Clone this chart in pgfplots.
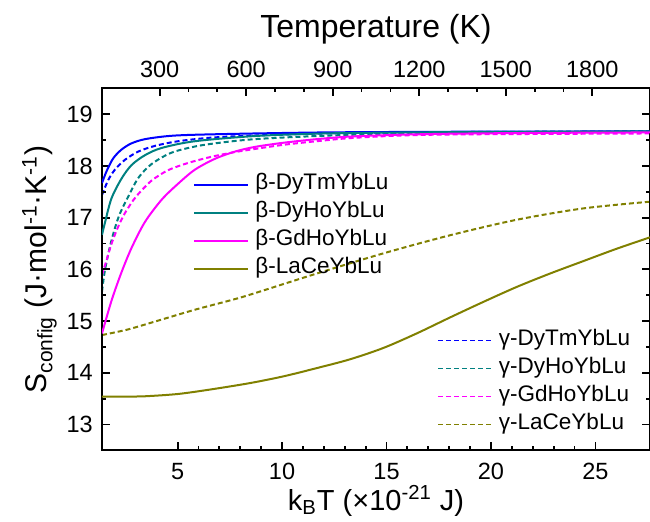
\documentclass[border=0pt]{standalone}
\usepackage{fontspec}
\setmainfont{Liberation Sans}
\usepackage{pgfplots}
\pgfplotsset{compat=1.18}
\definecolor{cblue}{RGB}{0,0,255}
\definecolor{cteal}{RGB}{0,128,128}
\definecolor{cmag}{RGB}{255,0,255}
\definecolor{colive}{RGB}{128,128,0}

\pgfplotstableread{
x y
1.3806 17.67
1.60 17.90
1.92 18.15
2.32 18.32
2.80 18.44
3.44 18.52
4.55 18.58
5.83 18.605
8.70 18.63
12.0 18.65
16.0 18.66
20.0 18.665
27.613 18.67
}\bDT
\pgfplotstableread{
x y
1.3806 16.67
1.55 16.95
1.84 17.38
2.32 17.76
2.80 18.02
3.44 18.21
4.24 18.35
5.83 18.48
8.70 18.58
12.0 18.63
16.0 18.65
20.0 18.66
27.613 18.67
}\bDH
\pgfplotstableread{
x y
1.3806 14.76
1.84 15.40
2.32 15.95
2.80 16.42
3.44 16.92
4.24 17.35
5.03 17.66
5.83 17.93
6.79 18.14
7.75 18.28
8.70 18.37
10.06 18.45
11.66 18.52
13.25 18.57
15.65 18.605
18.04 18.625
22.0 18.64
27.613 18.65
}\bGH
\pgfplotstableread{
x y
1.3806 13.54
2.50 13.54
3.44 13.545
5.03 13.59
6.63 13.68
8.46 13.80
10.06 13.93
11.66 14.09
13.25 14.26
14.85 14.48
16.44 14.76
18.04 15.07
19.63 15.37
21.23 15.66
22.83 15.92
24.42 16.16
26.02 16.40
27.613 16.62
}\bLC
\pgfplotstableread{
x y
1.3806 17.44
1.68 17.73
2.00 17.93
2.48 18.12
3.12 18.28
3.92 18.39
5.03 18.48
6.63 18.55
8.70 18.59
12.0 18.63
16.0 18.65
20.0 18.66
27.613 18.67
}\gDT
\pgfplotstableread{
x y
1.3806 15.57
1.52 15.98
1.76 16.44
2.00 16.80
2.24 17.08
2.60 17.38
3.12 17.77
3.76 18.04
4.72 18.26
5.99 18.39
7.42 18.47
8.70 18.52
10.5 18.56
13.0 18.60
16.0 18.63
20.0 18.65
27.613 18.66
}\gDH
\pgfplotstableread{
x y
1.3806 15.89
1.60 16.18
1.84 16.50
2.16 16.83
2.48 17.09
2.88 17.34
3.12 17.46
3.76 17.72
4.55 17.92
5.51 18.06
6.63 18.18
7.75 18.27
8.70 18.33
10.06 18.41
11.66 18.48
13.25 18.54
15.65 18.59
18.04 18.61
22.0 18.62
27.613 18.63
}\gGH
\pgfplotstableread{
x y
1.3806 14.73
2.64 14.84
4.24 15.03
5.83 15.22
7.42 15.39
8.46 15.51
11.66 15.92
14.85 16.31
18.04 16.66
21.23 16.96
24.42 17.18
27.613 17.31
}\gLC

\pgfplotsset{
  common/.style={
    scale only axis, width=274pt, height=180.9pt,
    at={(0,0)}, anchor=south west,
    xmin=1.3806, xmax=27.613, ymin=12.5, ymax=19.5,
    axis line style={line width=1pt},
    major tick length=4pt, minor tick length=2pt,
    every tick/.style={black, line width=0.9pt},
    tick align=inside,
    /pgf/number format/assume math mode=true,
    /pgf/number format/1000 sep={},
    tick label style={font=\fontsize{11.75}{13}\selectfont},
    legend cell align=left,
    legend style={draw=none, fill=none, inner sep=0pt, column sep=3pt,
      font=\fontsize{11.25}{13}\selectfont, row sep=3pt,
      nodes={inner sep=0pt, text height=8.2pt, text depth=2.8pt}},
  }
}

\begin{document}
\begin{tikzpicture}
% gamma curves (dashed), hidden axis
\begin{axis}[common, hide axis,
  legend image code/.code={\draw[#1, line width=0.6pt] (0pt,0pt) -- (27pt,0pt);},
  legend style={at={(axis description cs:0.612,0.3355)}, anchor=north west}]
\addplot[cblue, line width=1pt, dash pattern=on 2.5pt off 1.5pt, smooth] table {\gDT};
\addlegendentry{γ-DyTmYbLu}
\addplot[cteal, line width=1pt, dash pattern=on 2.5pt off 1.5pt, smooth] table {\gDH};
\addlegendentry{γ-DyHoYbLu}
\addplot[cmag, line width=1pt, dash pattern=on 2.5pt off 1.5pt, smooth] table {\gGH};
\addlegendentry{γ-GdHoYbLu}
\addplot[colive, line width=1pt, dash pattern=on 2.5pt off 1.5pt, smooth] table {\gLC};
\addlegendentry{γ-LaCeYbLu}
\end{axis}
% main axis with beta curves
\begin{axis}[common,
  xtick={5,10,15,20,25}, minor x tick num=4, xtick pos=bottom,
  ytick={13,14,15,16,17,18,19}, minor y tick num=1, ytick pos=both,
  xticklabel style={anchor=base, yshift=-14.5pt},
  yticklabel style={anchor=east, inner xsep=0pt, xshift=-4.4pt},
  xlabel={k\textsubscript{B}T (×10\textsuperscript{-21} J)},
  ylabel={S\textsubscript{config} (J·mol\textsuperscript{-1}·K\textsuperscript{-1})},
  xlabel style={font=\fontsize{14.5}{17}\selectfont, at={(axis description cs:0.5,-0.1658)}, anchor=base},
  ylabel style={font=\fontsize{15}{18}\selectfont, at={(axis description cs:-0.1004,0.5)}, anchor=base},
  legend image code/.code={\draw[#1] (0pt,0pt) -- (27pt,0pt);},
  legend style={at={(axis description cs:0.166,0.766)}, anchor=north west}]
\addplot[cblue, line width=1pt, smooth] table {\bDT};
\addlegendentry{β-DyTmYbLu}
\addplot[cteal, line width=1pt, smooth] table {\bDH};
\addlegendentry{β-DyHoYbLu}
\addplot[cmag, line width=1pt, smooth] table {\bGH};
\addlegendentry{β-GdHoYbLu}
\addplot[colive, line width=1pt, smooth] table {\bLC};
\addlegendentry{β-LaCeYbLu}
\end{axis}
% top temperature axis
\begin{axis}[scale only axis, width=274pt, height=180.9pt,
  at={(0,0)}, anchor=south west,
  xmin=100, xmax=2000, ymin=0, ymax=1,
  axis x line*=top, axis y line=none,
  axis line style={line width=1pt},
  major tick length=4pt, minor tick length=2pt,
  every tick/.style={black, line width=0.9pt},
  tick align=inside,
  scaled x ticks=false,
  /pgf/number format/assume math mode=true,
  /pgf/number format/1000 sep={},
  tick label style={font=\fontsize{11.75}{13}\selectfont},
  xtick={300,600,900,1200,1500,1800}, minor x tick num=2,
  xticklabel style={anchor=base, yshift=5.6pt},
  xlabel={Temperature (K)},
  xlabel style={font=\fontsize{16}{19}\selectfont, at={(axis description cs:0.5,1.1415)}, anchor=base}]
\addplot[draw=none] coordinates {(500,0.5)};
\end{axis}
\pgfresetboundingbox
\path[use as bounding box] (-51pt,-35.85pt) rectangle (274pt,225.15pt);
\end{tikzpicture}
\end{document}
